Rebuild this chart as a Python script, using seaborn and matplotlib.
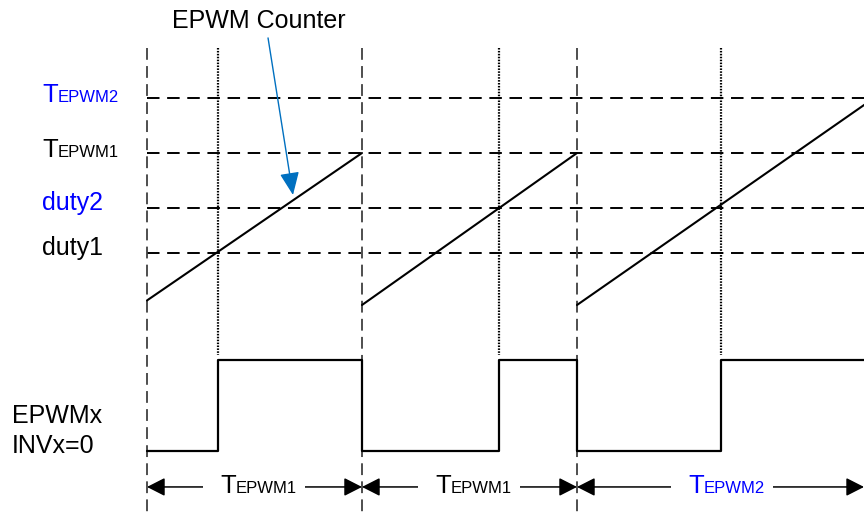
import numpy as np
import pandas as pd
import matplotlib
matplotlib.use("Agg")
import matplotlib.pyplot as plt
from matplotlib.patches import Rectangle
import seaborn as sns

# ---------------- data ----------------
# counter levels (normalised, TEPWM1 = 1)
level_names = ["TEPWM2", "TEPWM1", "duty2", "duty1"]
level_values = [1.36, 1.00, 0.64, 0.34]

# period boundaries (time units, one TEPWM1 period = 1)
period_starts = [0.0, 1.0, 2.0]
# sawtooth ramps: start/end time and start/end counter value
ramp_t0 = [0.0, 1.0, 2.0]
ramp_t1 = [1.0, 2.0, 3.38]
ramp_c0 = [0.03, 0.0, 0.0]
ramp_c1 = [1.0, 1.0, 1.36]
# compare-match (duty) instants -> dotted lines / rising edges
match_times = [0.33, 1.635, 2.67]
# EPWMx output: step edges and levels (0 low, 1 high)
pwm_edges = [0.0, 0.33, 1.0, 1.635, 2.0, 2.67, 3.335]
pwm_states = [0, 1, 0, 1, 0, 1, 1]
# period spans labelled at the bottom
span_start = [0.0, 1.0, 2.0]
span_end = [1.0, 2.0, 3.335]
span_sub = ["EPWM1", "EPWM1", "EPWM2"]
span_color = ["black", "black", "#0000FF"]

# ---------------- style ----------------
sns.set_style("white")
plt.rcParams["font.family"] = ["Liberation Sans", "DejaVu Sans"]
plt.rcParams["lines.scale_dashes"] = False

W, H = 864, 512
fig = plt.figure(figsize=(W / 100, H / 100), dpi=100)
ax = fig.add_axes([0, 0, 1, 1])
ax.set_xlim(-0.6837, 3.3349)
ax.set_ylim(-1.3618, 2.0066)
ax.axis("off")

PWM_LOW, PWM_HIGH = -0.96, -0.362
ARROW_Y = -1.197
VTOP = 1.69
BLUE = "#0000FF"

# horizontal dashed reference levels
for v in level_values:
    ax.plot([0, 3.335], [v, v], color="black", lw=1.4,
            linestyle=(0, (9, 5.5)), zorder=2)

# vertical dashed period boundaries
for t in period_starts:
    ax.plot([t, t], [VTOP, -1.3618], color="#404040", lw=1.3,
            linestyle=(0, (8.5, 4.5)), zorder=2)

# dotted compare-match lines
for t in match_times:
    ax.plot([t, t], [VTOP, -0.33], color="black", lw=1.6,
            linestyle=(0, (1.1, 1.0)), zorder=2)

# sawtooth counter
rows = []
for i in range(len(ramp_t0)):
    rows.append({"t": ramp_t0[i], "c": ramp_c0[i], "ramp": i})
    rows.append({"t": ramp_t1[i], "c": ramp_c1[i], "ramp": i})
df_ramp = pd.DataFrame(rows)
sns.lineplot(data=df_ramp, x="t", y="c", units="ramp", estimator=None,
             color="black", lw=1.5, ax=ax, legend=False, zorder=3)

# PWM output waveform
df_pwm = pd.DataFrame({"t": pwm_edges,
                       "y": [PWM_HIGH if s else PWM_LOW for s in pwm_states]})
sns.lineplot(data=df_pwm, x="t", y="y", drawstyle="steps-post", color="black",
             lw=1.6, ax=ax, legend=False, zorder=3, estimator=None)

# period span arrows
for a, b in zip(span_start, span_end):
    ax.annotate("", xy=(a, ARROW_Y), xytext=(b, ARROW_Y),
                arrowprops=dict(arrowstyle="<|-|>,head_length=0.55,head_width=0.28",
                                mutation_scale=20, color="black", lw=1.1,
                                shrinkA=0, shrinkB=0), zorder=3)

# EPWM Counter annotation arrow
ax.annotate("", xy=(0.679, 0.724), xytext=(0.563, 1.757),
            arrowprops=dict(arrowstyle="-|>,head_length=0.7,head_width=0.3",
                            mutation_scale=20, color="#0070C0", lw=1.0,
                            shrinkA=0, shrinkB=0), zorder=4)

# ---------------- text ----------------
def ftext(x, y, s, size=18, color="black", **kw):
    return fig.text(x / W, 1 - y / H, s, fontsize=size, color=color,
                    va="baseline", ha="left", zorder=3, **kw)

def tlabel(x, y, sub, color, box=False):
    if box:
        # white gap in the span arrow behind the label
        x0, x1 = x - 17, x + 85
        y0, y1 = y - 20, y + 4
        fig.add_artist(Rectangle((x0 / W, 1 - y1 / H), (x1 - x0) / W,
                                 (y1 - y0) / H, transform=fig.transFigure,
                                 fc="white", ec="none", zorder=1))
    ftext(x, y, "T", 18.5, color)
    ftext(x + 16, y, sub, 12, color)

ftext(172, 28, "EPWM Counter", 18)
tlabel(42, 102, "EPWM2", BLUE)
tlabel(42, 157, "EPWM1", "black")
ftext(42, 210, "duty2", 18, BLUE)
ftext(42, 255, "duty1", 18)
ftext(12, 423, "EPWMx", 18)
ftext(12, 453, "INVx=0", 18)

span_text_x = [220, 435, 688]
for x, sub, col in zip(span_text_x, span_sub, span_color):
    tlabel(x, 493, sub, col, box=True)

fig.savefig("out.png", dpi=100)
